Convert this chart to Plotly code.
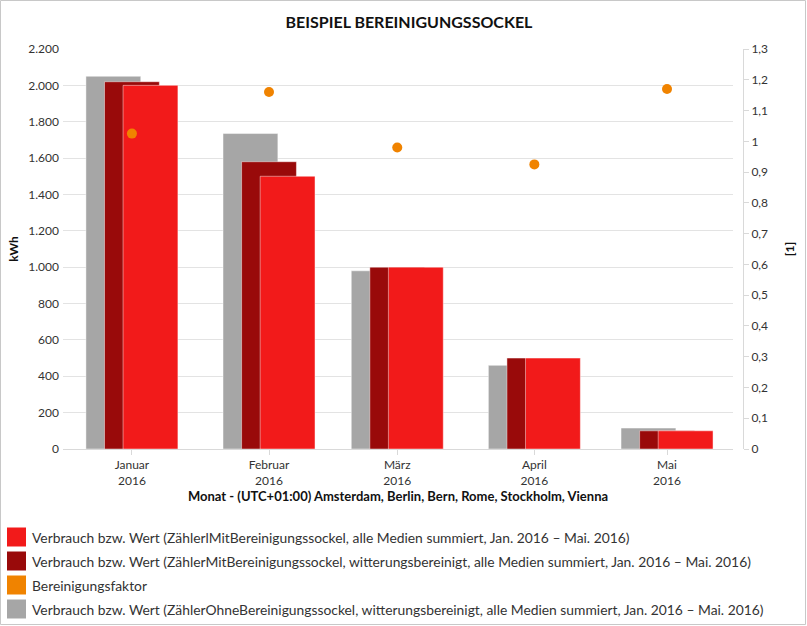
import plotly.graph_objects as go

# Daten
monate = ["2016-01-01", "2016-02-01", "2016-03-01", "2016-04-01", "2016-05-01"]
monat_labels = ["Januar<br>2016", "Februar<br>2016", "März<br>2016", "April<br>2016", "Mai<br>2016"]

mit_sockel = [2000, 1500, 1000, 500, 100]
mit_sockel_witterung = [2020, 1580, 1000, 500, 100]
ohne_sockel_witterung = [2050, 1735, 980, 460, 115]
faktor = [1.025, 1.16, 0.98, 0.925, 1.17]

namen = [
    "Verbrauch bzw. Wert (ZählerlMitBereinigungssockel, alle Medien summiert, Jan. 2016 – Mai. 2016)",
    "Verbrauch bzw. Wert (ZählerMitBereinigungssockel, witterungsbereinigt, alle Medien summiert, Jan. 2016 – Mai. 2016)",
    "Bereinigungsfaktor",
    "Verbrauch bzw. Wert (ZählerOhneBereinigungssockel, witterungsbereinigt, alle Medien summiert, Jan. 2016 – Mai. 2016)",
]
farben = ["#f21a1a", "#990a0a", "#f08300", "#a6a6a6"]

FONT = "Lato"
TXT = "#333333"
DAY = 86400000
breite = 12.4 * DAY
versatz = 4.2 * DAY

W, H = 807, 626
L, R, T, B = 63, 64, 49, 177
PW, PH = W - L - R, H - T - B

fig = go.Figure()

# Balken: grau hinten, dann dunkelrot, dann rot
for werte, farbe, shift, name in [
    (ohne_sockel_witterung, farben[3], -versatz, namen[3]),
    (mit_sockel_witterung, farben[1], 0, namen[1]),
    (mit_sockel, farben[0], versatz, namen[0]),
]:
    fig.add_trace(go.Bar(
        x=monate, y=werte, name=name,
        width=breite, offset=shift - breite / 2,
        marker=dict(color=farbe, line=dict(width=1, color="rgba(255,255,255,0.45)")),
    ))

fig.add_trace(go.Scatter(
    x=monate, y=faktor, name=namen[2], yaxis="y2", mode="markers",
    marker=dict(color=farben[2], size=10),
))

# eigene Legende unten
shapes = []
annotations = []
for i, (name, farbe) in enumerate(zip(namen, farben)):
    yc = 537 + i * 24
    shapes.append(dict(
        type="rect", xref="paper", yref="paper",
        x0=(7 - L) / PW, x1=(26 - L) / PW,
        y0=(H - B - (yc + 9.5)) / PH, y1=(H - B - (yc - 9.5)) / PH,
        fillcolor=farbe, line=dict(width=0),
    ))
    annotations.append(dict(
        text=name, xref="paper", yref="paper",
        x=(30 - L) / PW, y=(H - B - yc) / PH,
        xanchor="left", yanchor="middle", showarrow=False,
        font=dict(family=FONT, size=13.85, color=TXT),
    ))

# Rahmen
shapes.append(dict(
    type="rect", xref="paper", yref="paper",
    x0=(0.5 - L) / PW, x1=(W - 1.5 - L) / PW,
    y0=(H - B - (H - 1.5)) / PH, y1=(H - B - 0.5) / PH,
    line=dict(color="#c8c8c8", width=1), fillcolor="rgba(0,0,0,0)", layer="above",
))

fig.update_layout(
    width=W, height=H,
    margin=dict(l=L, r=R, t=T, b=B),
    paper_bgcolor="white", plot_bgcolor="white",
    barmode="overlay", showlegend=False,
    separators=",.",
    font=dict(family=FONT, size=12, color=TXT),
    title=dict(
        text="<b>BEISPIEL BEREINIGUNGSSOCKEL</b>",
        x=409 / W, xref="container", xanchor="center",
        y=1 - 22 / H, yref="container", yanchor="middle",
        font=dict(family=FONT, size=16, color="#111111"),
    ),
    xaxis=dict(
        type="date", domain=[0, (733 - L) / PW], automargin=False,
        range=["2015-12-16 10:00", "2016-05-15 22:00"],
        tickvals=monate, ticktext=monat_labels,
        ticks="outside", ticklen=5, tickcolor="#d9d9d9",
        showline=True, linecolor="#d9d9d9", linewidth=1,
        showgrid=False, zeroline=False,
        tickfont=dict(size=12, color=TXT),
        title=dict(text="<b>Monat - (UTC+01:00) Amsterdam, Berlin, Bern, Rome, Stockholm, Vienna</b>",
                   font=dict(size=13, color="#111111"), standoff=4),
    ),
    yaxis=dict(
        range=[0, 2200], dtick=200, tickformat=",.0f", automargin=False,
        showgrid=True, gridcolor="#e3e3e3", zeroline=False,
        tickfont=dict(size=12, color=TXT), ticklabelstandoff=3,
        title=dict(text="<b>kWh</b>", font=dict(size=12, color="#111111"), standoff=7),
    ),
    yaxis2=dict(
        range=[0, 1.3], dtick=0.1, overlaying="y", side="right",
        anchor="free", position=1, automargin=False,
        showgrid=False, zeroline=False,
        showline=True, linecolor="#d9d9d9", linewidth=1,
        ticks="outside", ticklen=5, tickcolor="#d9d9d9",
        tickfont=dict(size=12, color=TXT),
        title=dict(text="<b>[1]</b>", font=dict(size=12, color="#111111"), standoff=18),
    ),
    shapes=shapes, annotations=annotations,
)

fig.write_html("out.html", config={"displayModeBar": False},
               post_script="document.body.style.margin='0';")
